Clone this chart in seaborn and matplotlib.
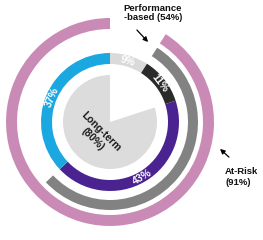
import numpy as np
import matplotlib
matplotlib.use('Agg')
from matplotlib import pyplot as plt
import seaborn as sns

sns.set_theme(style='white')
plt.rcParams['font.family'] = ['Liberation Sans', 'DejaVu Sans']

# data
risk_share = [9, 91]            # outer ring, at-risk 91%
perf_share = [9, 54, 37]        # performance-based 54%
mix_share = [9, 11, 43, 37]     # inner ring segments
mix_labels = ['9%', '11%', '43%', '37%']
longterm_share = [20, 80]       # long-term 80%

pink = '#c98bb6'
gray = '#828282'
mix_colors = ['#dadada', '#2a2a2a', '#4a2390', '#1ba8e0']

fig = plt.figure(figsize=(2.63, 2.4), dpi=100)
ax = fig.add_axes([0, 0, 1, 1])

wp = dict(edgecolor='none', linewidth=0)
ax.pie(risk_share, colors=['none', pink], startangle=90, counterclock=False,
       radius=104, wedgeprops=dict(width=11, **wp))
ax.pie(perf_share, colors=['none', gray, 'none'], startangle=90, counterclock=False,
       radius=88, wedgeprops=dict(width=10, **wp))
ax.pie(mix_share, colors=mix_colors, startangle=90, counterclock=False,
       radius=69, wedgeprops=dict(width=11, **wp))
ax.pie(longterm_share, colors=['none', '#dcdcdc'], startangle=90, counterclock=False,
       radius=47, wedgeprops=wp)

# labels on the inner ring, along the ring
cum = np.cumsum([0] + mix_share)
r_mid = 63.5
for i, lab in enumerate(mix_labels):
    ang = (cum[i] + cum[i + 1]) / 2 / 100 * 360
    x = r_mid * np.sin(np.radians(ang))
    y = r_mid * np.cos(np.radians(ang))
    rot = -ang
    while rot < -90:
        rot += 180
    ax.text(x, y, lab, color='white', fontsize=7.5, fontweight='bold',
            ha='center', va='center', rotation=rot, rotation_mode='anchor')

ax.text(-13, -13, 'Long-term\n(80%)', fontsize=7.5, fontweight='bold', color='#1a1a1a',
        ha='center', va='center', rotation=-45, linespacing=1.1)

ax.annotate('', xy=(40, 78), xytext=(25, 94),
            arrowprops=dict(arrowstyle='-|>', color='black', lw=0.9, mutation_scale=7))
ax.text(43, 109, 'Performance\n-based (54%)', fontsize=6.8, fontweight='bold',
        ha='center', va='center', color='#111111', linespacing=1.1)

ax.annotate('', xy=(108, -25), xytext=(121, -37),
            arrowprops=dict(arrowstyle='-|>', color='black', lw=0.9, mutation_scale=7))
ax.text(115, -55, 'At-Risk\n(91%)', fontsize=6.8, fontweight='bold',
        ha='left', va='center', color='#111111', linespacing=1.2)

ax.set_xlim(-110, 153)
ax.set_ylim(-118, 122)
ax.set_aspect('equal')
ax.axis('off')

plt.savefig('out.png', dpi=100)
